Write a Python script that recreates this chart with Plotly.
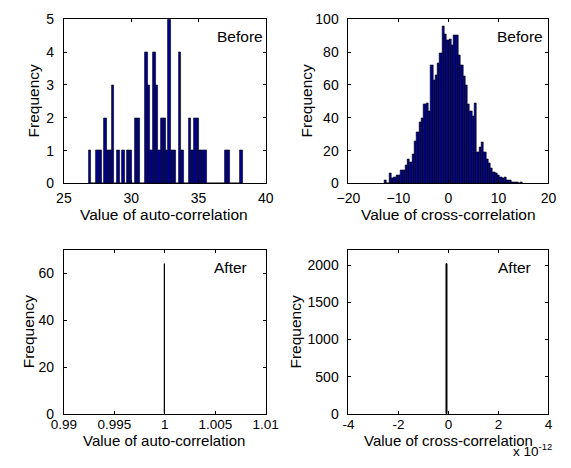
import numpy as np
import plotly.graph_objects as go

# ---- data -------------------------------------------------------------
# Auto-correlation values before: 60-bin histogram over the data range
auto_before_range = [26.84, 38.29]
auto_before_counts = [1, 0, 0, 1, 1, 0, 2, 1, 1, 3,
                      0, 1, 0, 1, 0, 1, 1, 0, 2, 2,
                      0, 0, 4, 3, 1, 4, 3, 1, 2, 2,
                      1, 5, 1, 1, 0, 4, 1, 0, 0, 2,
                      1, 2, 2, 1, 1, 1, 0, 0, 0, 0,
                      0, 0, 0, 1, 1, 0, 0, 0, 0, 1]

# Cross-correlation values before: 60-bin histogram over the data range
cross_before_range = [-12.78, 14.90]
cross_before_counts = [2, 0, 6, 3, 4, 5, 5, 8, 8, 11,
                       15, 13, 18, 26, 31, 37, 40, 48, 49, 44,
                       72, 63, 66, 73, 79, 96, 91, 87, 88, 84,
                       90, 90, 78, 72, 65, 60, 48, 44, 41, 49,
                       19, 22, 25, 19, 15, 12, 9, 7, 6, 5,
                       4, 3, 4, 2, 2, 1, 1, 1, 0, 1]

# After processing every value collapses onto a single bin
auto_after_value = [1.0]
auto_after_counts = [64]
cross_after_value = [-0.06e-12]
cross_after_counts = [2016]

# Axis ticks
auto_before_ticks = [25, 30, 35, 40]
cross_before_ticks = [-20, -10, 0, 10, 20]
auto_after_ticks = [0.99, 0.995, 1.0, 1.005, 1.01]
auto_after_ticklabels = ["0.99", "0.995", "1", "1.005", "1.01"]
cross_after_ticks = [-4e-12, -2e-12, 0, 2e-12, 4e-12]
cross_after_ticklabels = ["-4", "-2", "0", "2", "4"]


def bin_centers(rng, counts):
    edges = np.linspace(rng[0], rng[1], len(counts) + 1)
    return (edges[:-1] + edges[1:]) / 2, edges[1] - edges[0]


FONT = "Arial, 'Liberation Sans', Helvetica, sans-serif"
BAR_FILL = "#00008F"
W, H = 571, 468

fig = go.Figure()

x_ab, w_ab = bin_centers(auto_before_range, auto_before_counts)
x_cb, w_cb = bin_centers(cross_before_range, cross_before_counts)

bar_line = dict(color="black", width=0.6)
fig.add_trace(go.Bar(x=x_ab, y=auto_before_counts, width=w_ab,
                     marker=dict(color=BAR_FILL, line=bar_line),
                     xaxis="x", yaxis="y"))
fig.add_trace(go.Bar(x=x_cb, y=cross_before_counts, width=w_cb,
                     marker=dict(color=BAR_FILL, line=bar_line),
                     xaxis="x2", yaxis="y2"))
fig.add_trace(go.Bar(x=auto_after_value, y=auto_after_counts, width=0.00008,
                     marker=dict(color="black", line=dict(color="black", width=1)),
                     xaxis="x3", yaxis="y3"))
fig.add_trace(go.Bar(x=cross_after_value, y=cross_after_counts, width=0.015e-12,
                     marker=dict(color="black", line=dict(color="black", width=1)),
                     xaxis="x4", yaxis="y4"))

# pixel geometry of the four plot boxes
left_col = (53.3, 264.8)
right_col = (351.5, 561.0)
top_row = (11.7, 181.7)
bot_row = (250.7, 420.3)


def xdom(c):
    return [c[0] / W, c[1] / W]


def ydom(r):
    return [1 - r[1] / H, 1 - r[0] / H]


def axis_style(**kw):
    base = dict(showline=True, linecolor="black", linewidth=1, mirror="ticks",
                ticks="inside", ticklen=3, tickcolor="black", tickwidth=1,
                showgrid=False, zeroline=False,
                tickfont=dict(family=FONT, size=14, color="black"))
    base.update(kw)
    return base


fig.update_layout(
    width=W, height=H,
    margin=dict(l=0, r=0, t=0, b=0),
    paper_bgcolor="white", plot_bgcolor="white",
    showlegend=False, bargap=0,
    font=dict(family=FONT, color="black"),
    xaxis=axis_style(domain=xdom(left_col), range=[25, 40], tickvals=auto_before_ticks,
                     anchor="y", ticklabelstandoff=2),
    yaxis=axis_style(domain=ydom(top_row), range=[0, 5], tickvals=[0, 1, 2, 3, 4, 5],
                     anchor="x", ticklabelstandoff=6),
    xaxis2=axis_style(domain=xdom(right_col), range=[-20, 20], tickvals=cross_before_ticks,
                      anchor="y2", ticklabelstandoff=2),
    yaxis2=axis_style(domain=ydom(top_row), range=[0, 100], tickvals=[0, 20, 40, 60, 80, 100],
                      anchor="x2", ticklabelstandoff=6),
    xaxis3=axis_style(domain=xdom(left_col), range=[0.99, 1.01], tickvals=auto_after_ticks,
                      ticktext=auto_after_ticklabels, anchor="y3", ticklabelstandoff=-2,
                      tickfont=dict(family=FONT, size=13.5, color="black")),
    yaxis3=axis_style(domain=ydom(bot_row), range=[0, 70], tickvals=[0, 20, 40, 60],
                      anchor="x3", ticklabelstandoff=6),
    xaxis4=axis_style(domain=xdom(right_col), range=[-4e-12, 4e-12], tickvals=cross_after_ticks,
                      ticktext=cross_after_ticklabels, anchor="y4", ticklabelstandoff=-2,
                      tickfont=dict(family=FONT, size=13.5, color="black")),
    yaxis4=axis_style(domain=ydom(bot_row), range=[0, 2200], tickvals=[0, 500, 1000, 1500, 2000],
                      anchor="x4", ticklabelstandoff=6),
)

ann = []


def px_text(text, x, y, size=15.5, angle=0, xanchor="center", yanchor="middle"):
    ann.append(dict(text=text, x=x / W, y=1 - y / H, xref="paper", yref="paper",
                    showarrow=False, textangle=angle, xanchor=xanchor, yanchor=yanchor,
                    borderpad=0, font=dict(family=FONT, size=size, color="black")))


# axis titles
px_text("Value of auto-correlation", 158.5, 213.5)
px_text("Value of cross-correlation", 456, 213.5)
px_text("Value of auto-correlation", 158.5, 438, size=15, yanchor="top")
px_text("Value of cross-correlation", 456, 438, size=15, yanchor="top")
px_text("Frequency", 21, 96.7, angle=-90)
px_text("Frequency", 307, 96.7, angle=-90)
px_text("Frequency", 16, 335.5, angle=-90)
px_text("Frequency", 296, 335.5, angle=-90)
px_text("x 10<sup>-12</sup>", 544, 468, size=13.5, yanchor="bottom")

# panel captions
px_text("Before", 237.5, 30, size=15.5)
px_text("Before", 531, 30, size=15.5)
px_text("After", 228, 269, size=15.5)
px_text("After", 525, 269, size=15.5)

fig.update_layout(annotations=ann)
fig.write_html("out.html")
